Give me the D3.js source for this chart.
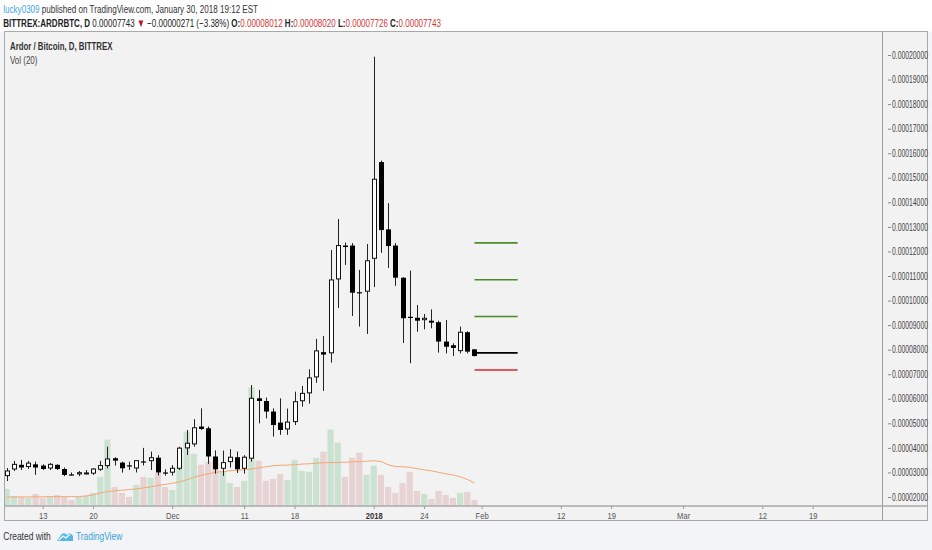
<!DOCTYPE html>
<html>
<head>
<meta charset="utf-8">
<script src="https://cdn.jsdelivr.net/npm/d3@7"></script>
<style>
  html, body { margin: 0; padding: 0; background: #fff; }
  svg { display: block; font-family: "Liberation Sans", Arial, sans-serif; }
</style>
</head>
<body>
<div id="chart"></div>
<script>
// daily candles, prices in satoshi (1e-8 BTC), one entry per bar
var opens  = [2830,3100,3310,3200,3330,3280,3140,3310,3140,2920, 2900,2960,2930,3090,3240,3580,3400,3290,3140,3450,
              3440,3600,3000,2970,3130,3960,4120,4870,4800,3650, 3130,3400,3620,3130,3540,6020,5910,5480,5030,4730,
              5030,5880,6200,6850,7900,7830,10840,12240,12240,10340, 10340,11680,15640,12900,12240,10930,9340,9300,9180,9180,
              9120,8330,8180,7920,8710,8012];
var highs  = [3180,3470,3510,3470,3440,3330,3380,3330,3200,3000, 3060,3100,3180,3470,4050,3620,3440,3440,3500,4000,
              3850,3700,3130,3300,4050,4730,5170,5610,4870,3900, 3890,3950,3850,3700,6560,6360,6050,5610,6020,5600,
              6290,6520,7200,8440,8560,12060,13320,12360,12340,11250, 12300,19930,15700,13970,12340,10950,11220,9820,9450,9640,
              9180,9210,8260,8940,8750,8020];
var lows   = [2650,3060,3100,3140,2900,3100,3100,3100,2850,2880, 2850,2920,2900,3060,3170,3280,2990,3100,3000,3280,
              3100,2880,2870,2880,3100,3710,4050,4730,3350,2950, 2860,3200,2980,2950,3440,5000,5200,4460,4530,4530,
              4930,5680,5800,6650,6320,7470,9700,11450,9370,8940, 8640,10550,11940,11330,10600,8270,7450,8730,8830,8870,
              7880,7850,7740,7850,7850,7726];
var closes = [3060,3330,3200,3380,3200,3140,3330,3140,2900,2900, 2990,2980,3140,3280,3550,3480,3170,3270,3480,3430,
              3600,3000,2960,3170,3990,4190,4820,4770,3650,3130, 3400,3620,3130,3620,6020,5910,5480,4930,4730,5050,
              5880,6220,6850,7950,7800,10840,12240,12180,10320,10320, 11620,14940,12870,12220,10930,9280,9320,9180,9280,9100,
              8330,8120,8070,8710,7920,7743];
var volumes = [85,50,45,40,60,40,45,55,45,30, 45,50,65,145,330,95,65,45,105,145,
               140,165,95,80,200,370,260,205,220,230, 170,115,95,125,590,225,125,135,160,130,
               230,175,170,240,270,380,315,145,240,265, 155,200,155,95,65,115,170,75,60,35,
               75,55,40,65,70,30];
// Vol (20) moving average
var volMA = [43.5,45,45,45,45,46,46.5,46.5,46.5,46.5, 46.5,50,55,65,71.5,75,78.5,81.5,85,90,
             95,102.5,107.5,112.5,120,130,142.5,152.5,160,167.5, 171.5,175,177.5,180,184,190,195,200,202.5,203.5,
             205,208.5,210,212.5,215,216,216.5,217.5,219,221, 222.5,225,221.5,205,196.5,195,192.5,186,180,175,
             167.5,160,155,145,132.5,115];

// time axis: bar index of each label
var tickIdx    = [5, 12, 23, 33, 40, 51, 58, 66, 77, 84, 94, 105, 112];
var tickLabels = ["13","20","Dec","11","18","2018","24","Feb","12","19","Mar","12","19"];
var priceTicks = [20000,19000,18000,17000,16000,15000,14000,13000,12000,11000,10000,
                  9000,8000,7000,6000,5000,4000,3000,2000];

// drawn levels (satoshi)
var levelValues = [12350, 10850, 9350, 7870, 7170];
var levelKinds  = ["target","target","target","entry","stop"];

var W = 932, H = 550;
var frameL = 4.5, frameT = 31.5, frameR = 927.5, frameB = 520.5;
var plotR = 882.5, axisY = 506;

var svg = d3.select("#chart").append("svg").attr("width", W).attr("height", H);

var x = d3.scaleLinear().domain([0, 112]).range([6.7, 812.7]);
var y = d3.scaleLinear().domain([2000, 20000]).range([497, 55]);
var yVol = d3.scaleLinear().domain([0, 4 * d3.max(volumes)]).range([axisY, frameT]);

function squeeze(sel, width, ox) {
  sel.each(function () {
    var w = this.getComputedTextLength();
    var f = width / w;
    d3.select(this).attr("transform", "translate(" + ox + ",0) scale(" + f + ",1) translate(" + (-ox) + ",0)");
  });
}

// backgrounds
svg.append("rect").attr("width", W).attr("height", H).attr("fill", "#f2f4f7");
svg.append("rect").attr("width", W).attr("height", frameT).attr("fill", "#fff");
svg.append("rect")
  .attr("x", frameL).attr("y", frameT)
  .attr("width", frameR - frameL).attr("height", frameB - frameT)
  .attr("fill", "#f2f2f2").attr("stroke", "#a9a9a9");

svg.append("clipPath").attr("id", "plotclip")
  .append("rect").attr("x", frameL + 0.5).attr("y", frameT + 0.5)
  .attr("width", plotR - frameL - 1).attr("height", axisY - frameT - 1);

var plot = svg.append("g").attr("clip-path", "url(#plotclip)");
var idx = d3.range(opens.length);

// volume
plot.append("g").selectAll("rect")
  .data(idx).join("rect")
  .attr("x", function (i) { return x(i) - 3.1; })
  .attr("width", 6.2)
  .attr("y", function (i) { return yVol(volumes[i]); })
  .attr("height", function (i) { return axisY - yVol(volumes[i]); })
  .attr("fill", function (i) { return closes[i] >= opens[i] ? "#cce2d0" : "#e7d3d3"; });

plot.append("path")
  .datum(volMA)
  .attr("fill", "none")
  .attr("stroke", "#f4a675")
  .attr("stroke-width", 1)
  .attr("d", d3.line().x(function (d, i) { return x(i); }).y(function (d) { return yVol(d); }));

// candles
var cg = plot.append("g");
cg.selectAll("line")
  .data(idx).join("line")
  .attr("x1", function (i) { return Math.round(x(i)) + 0.5; })
  .attr("x2", function (i) { return Math.round(x(i)) + 0.5; })
  .attr("y1", function (i) { return y(highs[i]); })
  .attr("y2", function (i) { return y(lows[i]); })
  .attr("stroke", "#222").attr("stroke-width", 1);

cg.selectAll("rect")
  .data(idx).join("rect")
  .each(function (i) {
    var up = closes[i] >= opens[i];
    var cx = Math.round(x(i)) + 0.5;
    var top = y(Math.max(opens[i], closes[i]));
    var bot = y(Math.min(opens[i], closes[i]));
    var h = Math.max(1.2, bot - top);
    var r = d3.select(this);
    if (up) {
      r.attr("x", cx - 2).attr("width", 4).attr("y", top).attr("height", Math.max(1, h - 1))
        .attr("fill", "#fff").attr("stroke", "#111").attr("stroke-width", 1);
    } else {
      r.attr("x", cx - 2.5).attr("width", 5).attr("y", top).attr("height", h)
        .attr("fill", "#000");
    }
  });

// levels
var levelColor = { target: "#4c8a2a", entry: "#000", stop: "#e0262b" };
plot.append("g").selectAll("line")
  .data(levelValues).join("line")
  .attr("x1", x(65)).attr("x2", x(71))
  .attr("y1", function (d) { return y(d); })
  .attr("y2", function (d) { return y(d); })
  .attr("stroke", function (d, i) { return levelColor[levelKinds[i]]; })
  .attr("stroke-width", 1.6);

// price axis
svg.append("line").attr("x1", plotR).attr("x2", plotR).attr("y1", frameT).attr("y2", frameB)
  .attr("stroke", "#9a9a9a");
var pa = svg.append("g").attr("transform", "translate(888,0)")
  .call(d3.axisRight(y).tickValues(priceTicks).tickSize(3).tickPadding(1)
    .tickFormat(function (d) { return (d / 1e8).toFixed(8); }));
pa.select(".domain").remove();
pa.selectAll(".tick line").attr("stroke", "#888");
pa.selectAll(".tick text").attr("fill", "#444").attr("font-size", "10px")
  .attr("font-family", "Liberation Sans, Arial, sans-serif")
  .call(squeeze, 36, 4);

// time axis
svg.append("line").attr("x1", frameL).attr("x2", frameR).attr("y1", axisY).attr("y2", axisY)
  .attr("stroke", "#a8a8a8").attr("stroke-width", 1.6);
var ta = svg.append("g").attr("transform", "translate(0," + axisY + ")")
  .call(d3.axisBottom(x).tickValues(tickIdx).tickSize(3)
    .tickFormat(function (d, i) { return tickLabels[i]; }));
ta.select(".domain").remove();
ta.selectAll(".tick line").attr("stroke", "#999");
ta.selectAll(".tick text")
  .attr("y", 13).attr("dy", 0)
  .attr("font-size", "9.5px")
  .attr("font-family", "Liberation Sans, Arial, sans-serif")
  .attr("fill", function (d, i) { return tickLabels[i] === "2018" ? "#333" : "#555"; })
  .attr("font-weight", function (d, i) { return tickLabels[i] === "2018" ? "bold" : "normal"; })
  .attr("transform", "scale(0.8,1)");

// header
var h1 = svg.append("text").attr("x", 3.3).attr("y", 13).attr("font-size", "11.5px").attr("fill", "#333");
h1.append("tspan").attr("fill", "#3ea5e8").text("lucky0309");
h1.append("tspan").text(" published on TradingView.com, January 30, 2018 19:12 EST");
squeeze(h1, 255, 3.3);

var h2 = svg.append("text").attr("x", 3.3).attr("y", 27).attr("font-size", "11.5px").attr("fill", "#222");
var red = "#cf3535";
[
  ["BITTREX:ARDRBTC, D", "bold", "#222"],
  [" 0.00007743 ", "normal", "#222"],
  ["\u25BC", "normal", "#b8141a"],
  [" \u22120.00000271 (\u22123.38%) ", "normal", "#222"],
  ["O:", "bold", "#222"], ["0.00008012", "normal", red],
  [" H:", "bold", "#222"], ["0.00008020", "normal", red],
  [" L:", "bold", "#222"], ["0.00007726", "normal", red],
  [" C:", "bold", "#222"], ["0.00007743", "normal", red]
].forEach(function (p) {
  h2.append("tspan").attr("font-weight", p[1]).attr("fill", p[2]).text(p[0]);
});
squeeze(h2, 438, 3.3);

var t1 = svg.append("text").attr("x", 10).attr("y", 50).attr("font-size", "11px")
  .attr("font-weight", "bold").attr("fill", "#333").text("Ardor / Bitcoin, D, BITTREX");
squeeze(t1, 102.5, 10);
var t2 = svg.append("text").attr("x", 10).attr("y", 64).attr("font-size", "11px")
  .attr("fill", "#444").text("Vol (20)");
squeeze(t2, 27.5, 10);

// footer
var f1 = svg.append("text").attr("x", 3.3).attr("y", 540.5).attr("font-size", "11.5px")
  .attr("fill", "#333").text("Created with");
squeeze(f1, 47.5, 3.3);
var logo = svg.append("g").attr("transform", "translate(57,531)");
logo.append("path")
  .attr("d", "M0,10 L4,4 Q6,1 9,3 L10,4 Q13,0 16,5 L16,10 Z")
  .attr("fill", "#56b6e6");
logo.append("path")
  .attr("d", "M2,9 L6,5 L9,7 L13,3")
  .attr("fill", "none").attr("stroke", "#fff").attr("stroke-width", 1.2);
var f2 = svg.append("text").attr("x", 76).attr("y", 540.5).attr("font-size", "11.5px")
  .attr("fill", "#3aa0db").text("TradingView");
squeeze(f2, 46.3, 76);
</script>
</body>
</html>
